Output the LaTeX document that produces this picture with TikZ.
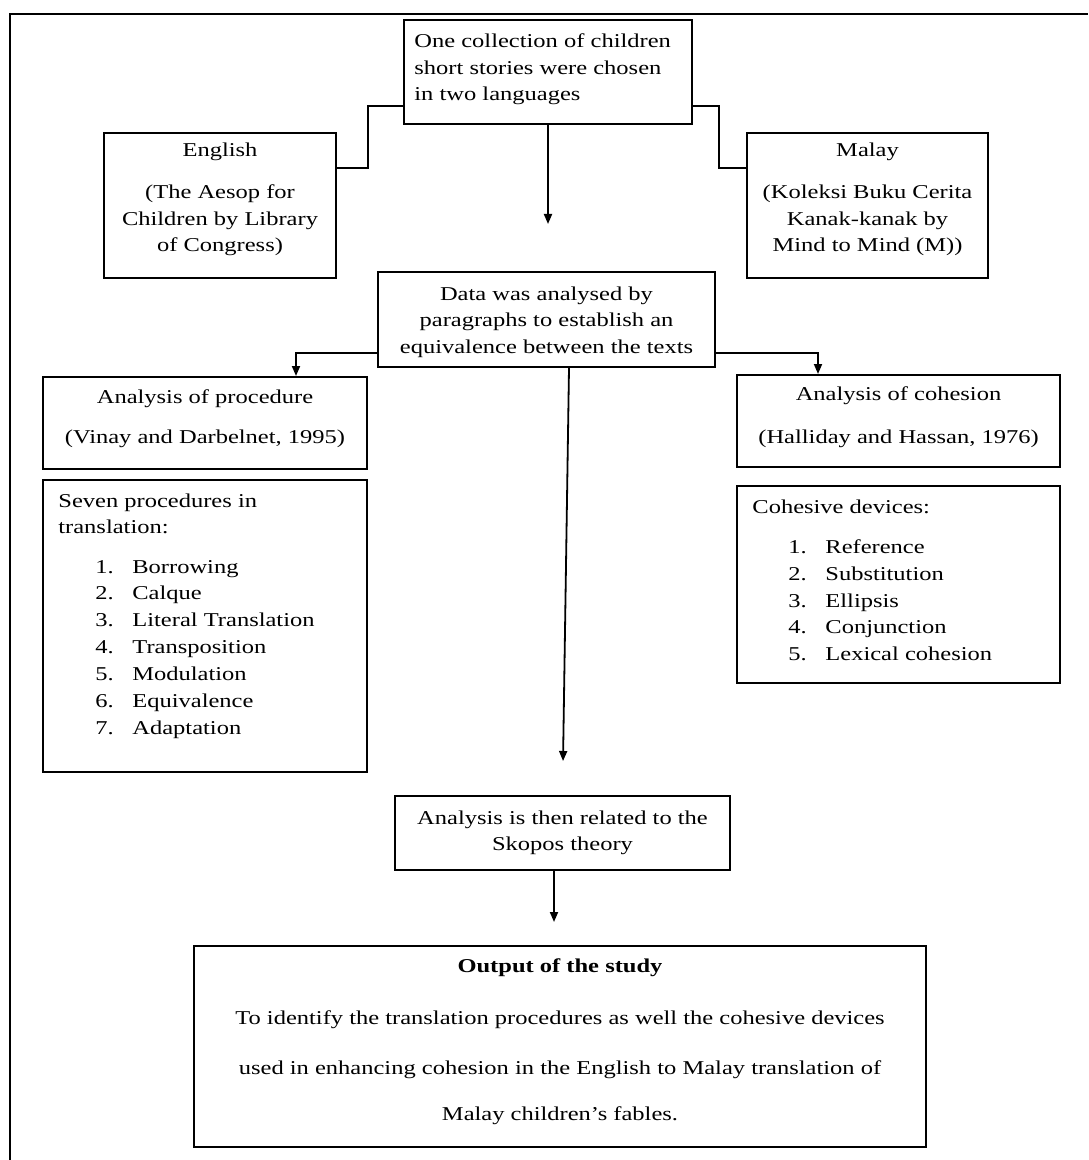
\documentclass[tikz,border=0pt]{standalone}
\usepackage{fontspec}
\setmainfont{Liberation Serif}[FakeStretch=1.25]
\usetikzlibrary{arrows.meta,fit}
\begin{document}
\begin{tikzpicture}[x=0.5pt,y=-0.5pt,
  box/.style={draw, line width=1pt, inner sep=0pt},
  txt/.style={inner sep=0pt, font=\fontsize{9.8}{13.25}\selectfont},
  conn/.style={line width=0.9pt},
  arr/.style={conn, -{Triangle[width=4pt,length=5pt]}},
  num/.style={txt, anchor=base west}]
\useasboundingbox (0,0) rectangle (1088,1160);
\draw[line width=1.3pt] (10,1160) -- (10,14) -- (1088,14);

% boxes
\node[box, fit={(404,20)(692,124)}] (T) {};
\node[box, fit={(104,133)(336,278)}] (E) {};
\node[box, fit={(747,133)(988,278)}] (M) {};
\node[box, fit={(378,272)(715,367)}] (D) {};
\node[box, fit={(43,377)(367,469)}] (AP) {};
\node[box, fit={(43,480)(367,772)}] (SP) {};
\node[box, fit={(737,375)(1060,467)}] (AC) {};
\node[box, fit={(737,486)(1060,683)}] (CD) {};
\node[box, fit={(395,796)(730,870)}] (SK) {};
\node[box, fit={(194,946)(926,1147)}] (O) {};

% connectors
\draw[conn] (T.west |- 0,106) -| (368,168) -- (E.east |- 0,168);
\draw[conn] (T.east |- 0,106) -| (719,168) -- (M.west |- 0,168);
\draw[arr, shorten >=23.5pt] (T.south -| 548,0) -- (D.north -| 548,0);
\draw[arr] (D.west |- 0,353) -| (AP.north -| 296,0);
\draw[arr] (D.east |- 0,353) -| (AC.north -| 818,0);
\draw[arr, shorten >=17pt] (D.south -| 569,0) -- (SK.north);
\draw[arr, shorten >=11.5pt] (SK.south -| 554,0) -- (O.north -| 554,0);

% texts
\node[txt, anchor=base west] (t1) at (414,48) {One collection of children};
\node[txt, anchor=base west] (t2) at (414,75) {short stories were chosen};
\node[txt, anchor=base west] (t3) at (414,101) {in two languages};

\node[txt, anchor=base] (e1) at (220,157) {English};
\node[txt, anchor=base] (e2) at (220,199) {(The Aesop for};
\node[txt, anchor=base] (e3) at (220,225.5) {Children by Library};
\node[txt, anchor=base] (e4) at (220,252) {of Congress)};

\node[txt, anchor=base] (m1) at (867.5,157) {Malay};
\node[txt, anchor=base] (m2) at (867.5,199) {(Koleksi Buku Cerita};
\node[txt, anchor=base] (m3) at (867.5,225.5) {Kanak-kanak by};
\node[txt, anchor=base] (m4) at (867.5,252) {Mind to Mind (M))};

\node[txt, anchor=base] (d1) at (546.5,300) {Data was analysed by};
\node[txt, anchor=base] (d2) at (546.5,326.5) {paragraphs to establish an};
\node[txt, anchor=base] (d3) at (546.5,353) {equivalence between the texts};

\node[txt, anchor=base] (ap1) at (205,403) {Analysis of procedure};
\node[txt, anchor=base] (ap2) at (205,443) {(Vinay and Darbelnet, 1995)};

\node[txt, anchor=base west] (sp1) at (58,507) {Seven procedures in};
\node[txt, anchor=base west] (sp2) at (58,533) {translation:};
\node[num] (sp3) at (95,573) {\makebox[18.5pt][l]{1.}Borrowing};
\node[num] (sp4) at (95,599.8) {\makebox[18.5pt][l]{2.}Calque};
\node[num] (sp5) at (95,626.7) {\makebox[18.5pt][l]{3.}Literal Translation};
\node[num] (sp6) at (95,653.5) {\makebox[18.5pt][l]{4.}Transposition};
\node[num] (sp7) at (95,680.3) {\makebox[18.5pt][l]{5.}Modulation};
\node[num] (sp8) at (95,707.2) {\makebox[18.5pt][l]{6.}Equivalence};
\node[num] (sp9) at (95,734) {\makebox[18.5pt][l]{7.}Adaptation};

\node[txt, anchor=base] (ac1) at (898.5,400) {Analysis of cohesion};
\node[txt, anchor=base] (ac2) at (898.5,443) {(Halliday and Hassan, 1976)};

\node[txt, anchor=base west] (cd1) at (752,513) {Cohesive devices:};
\node[num] (cd2) at (788,553) {\makebox[18.5pt][l]{1.}Reference};
\node[num] (cd3) at (788,580) {\makebox[18.5pt][l]{2.}Substitution};
\node[num] (cd4) at (788,607) {\makebox[18.5pt][l]{3.}Ellipsis};
\node[num] (cd5) at (788,633.5) {\makebox[18.5pt][l]{4.}Conjunction};
\node[num] (cd6) at (788,660) {\makebox[18.5pt][l]{5.}Lexical cohesion};

\node[txt, anchor=base] (sk1) at (562.5,824) {Analysis is then related to the};
\node[txt, anchor=base] (sk2) at (562.5,850.5) {Skopos theory};

\node[txt, anchor=base, font=\fontsize{9.8}{13.25}\selectfont\bfseries] (o1) at (560,972) {Output of the study};
\node[txt, anchor=base] (o2) at (560,1024) {To identify the translation procedures as well the cohesive devices};
\node[txt, anchor=base] (o3) at (560,1074) {used in enhancing cohesion in the English to Malay translation of};
\node[txt, anchor=base] (o4) at (560,1120) {Malay children’s fables.};
\end{tikzpicture}
\end{document}
